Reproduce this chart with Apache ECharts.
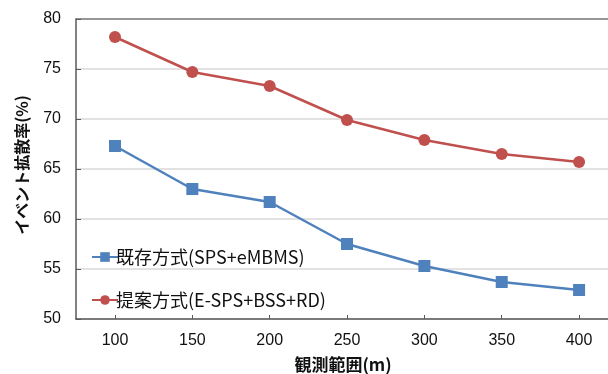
<!DOCTYPE html>
<html><head><meta charset="utf-8">
<script src="https://cdn.jsdelivr.net/npm/echarts@6/dist/echarts.min.js"></script>
<style>html,body{margin:0;padding:0;background:#fff}#c{width:608px;height:374px}</style>
</head><body><div id="c"></div>
<script>
const categories = [100, 150, 200, 250, 300, 350, 400];
const existingName = '既存方式(SPS+eMBMS)';
const proposedName = '提案方式(E-SPS+BSS+RD)';
const existingValues = [67.3, 63.0, 61.7, 57.5, 55.3, 53.7, 52.9];
const proposedValues = [78.2, 74.7, 73.3, 69.9, 67.9, 66.5, 65.7];
const yTitle = 'イベント拡散率(%)';
const xTitle = '観測範囲(m)';

const font = '"Liberation Sans", Arial, sans-serif';
const cjk = '"Noto Sans CJK JP", "Liberation Sans", sans-serif';
const pair = (vals) => categories.map((c, i) => [c, vals[i]]);
const chart = echarts.init(document.getElementById('c'), null, {renderer:'canvas'});
chart.setOption({
  animation:false,
  backgroundColor:'#fff',
  grid:{left:76, top:19, right:0, bottom:55},
  xAxis:[{type:'value', min:74.8, max:418.7,
    axisLine:{show:true, lineStyle:{color:'#595959', width:1.5}},
    splitLine:{show:false},
    axisTick:{show:true, inside:true, length:4, customValues:categories, lineStyle:{color:'#595959'}},
    axisLabel:{customValues:categories, fontFamily:font, fontSize:16, color:'#111', margin:14}},
   {type:'value', position:'top', min:74.8, max:418.7,
    axisLine:{show:true, lineStyle:{color:'#7f7f7f', width:1.5}},
    splitLine:{show:false}, axisTick:{show:false}, axisLabel:{show:false}}],
  yAxis:{type:'value', min:50, max:80, interval:5,
    axisLine:{show:true, lineStyle:{color:'#595959', width:1.5}},
    axisTick:{show:true, inside:true, length:5, lineStyle:{color:'#595959'}},
    splitLine:{lineStyle:{color:'#d9d9d9', width:1.5}},
    axisLabel:{fontFamily:font, fontSize:16, color:'#111', margin:15}},
  legend:{orient:'vertical', left:86, top:243, itemGap:25, itemWidth:26, itemHeight:12,
    textStyle:{fontFamily:cjk, fontSize:18, color:'#111', padding:[0,0,0,-7]},
    data:[existingName, proposedName]},
  graphic:[
    {type:'text', x:22, y:165, rotation:Math.PI/2,
      style:{text:yTitle, font:'bold 16px '+cjk, fill:'#111', textAlign:'center', textVerticalAlign:'middle'}},
    {type:'text', x:343, y:365,
      style:{text:xTitle, font:'bold 17px '+cjk, fill:'#111', textAlign:'center', textVerticalAlign:'middle'}}
  ],
  series:[
    {name:existingName, type:'line', xAxisIndex:0, data:pair(existingValues), symbol:'rect', symbolSize:12,
      itemStyle:{color:'#4f81bd'}, lineStyle:{color:'#4f81bd', width:2.5}},
    {name:proposedName, type:'line', xAxisIndex:0, data:pair(proposedValues), symbol:'circle', symbolSize:12,
      itemStyle:{color:'#c0504d'}, lineStyle:{color:'#c0504d', width:2.5}}
  ]
});
</script></body></html>
